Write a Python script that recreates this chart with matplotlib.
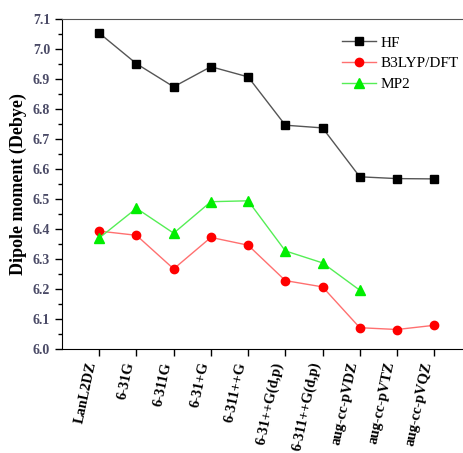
import matplotlib
matplotlib.use('Agg')
import matplotlib.pyplot as plt
from matplotlib.ticker import MultipleLocator

# basis sets
basis = ['LanL2DZ', '6-31G', '6-311G', '6-31+G', '6-311++G', '6-31++G(d,p)',
         '6-311++G(d,p)', 'aug-cc-pVDZ', 'aug-cc-pVTZ', 'aug-cc-pVQZ']

# dipole moments (Debye)
hf = [7.053, 6.951, 6.874, 6.941, 6.907, 6.746, 6.737, 6.574, 6.568, 6.567]
b3lyp = [6.393, 6.379, 6.267, 6.372, 6.346, 6.228, 6.207, 6.071, 6.065, 6.079]
mp2 = [6.370, 6.469, 6.386, 6.491, 6.494, 6.327, 6.287, 6.196]

plt.rcParams['font.family'] = ['Liberation Serif', 'DejaVu Serif']

fig = plt.figure(figsize=(4.64, 4.53), dpi=100)
ax = fig.add_axes([62/464, 1 - 349/453, 1 - 62/464, (349 - 19)/453])

x = list(range(len(basis)))
ax.plot(x, hf, color='#555555', lw=1, marker='s', ms=5.5,
        mfc='black', mec='black', label='HF')
ax.plot(x, b3lyp, color='#ff7070', lw=1, marker='o', ms=6,
        mfc='#ff0000', mec='#ff0000', label='B3LYP/DFT')
ax.plot(x[:len(mp2)], mp2, color='#55ee55', lw=1, marker='^', ms=6.5,
        mfc='#00ee00', mec='#00ee00', label='MP2')

ax.set_xlim(-1, 9.8)
ax.set_ylim(6.0, 7.1)
ax.yaxis.set_major_locator(MultipleLocator(0.1))
ax.yaxis.set_minor_locator(MultipleLocator(0.05))
ax.set_xticks(x)
ax.set_xticklabels(basis, rotation=78, ha='right', fontsize=10.5, fontweight='bold')
ax.tick_params(axis='y', which='major', direction='out', length=5, width=1,
               labelsize=10, labelcolor='#4a4a66')
ax.tick_params(axis='y', which='minor', direction='out', length=3, width=1)
ax.tick_params(axis='x', direction='out', length=5, width=1)
for lab in ax.get_yticklabels():
    lab.set_fontweight('bold')
ax.spines['right'].set_visible(False)
ax.spines['top'].set_color('#555555')

ax.set_ylabel('Dipole moment (Debye)', fontsize=13, fontweight='bold', labelpad=4)

ax.legend(loc='upper right', bbox_to_anchor=(1.02, 0.99), frameon=False,
          fontsize=11, handlelength=2.2, handletextpad=0.3, labelspacing=0.45)

fig.savefig('out.png', dpi=100)
